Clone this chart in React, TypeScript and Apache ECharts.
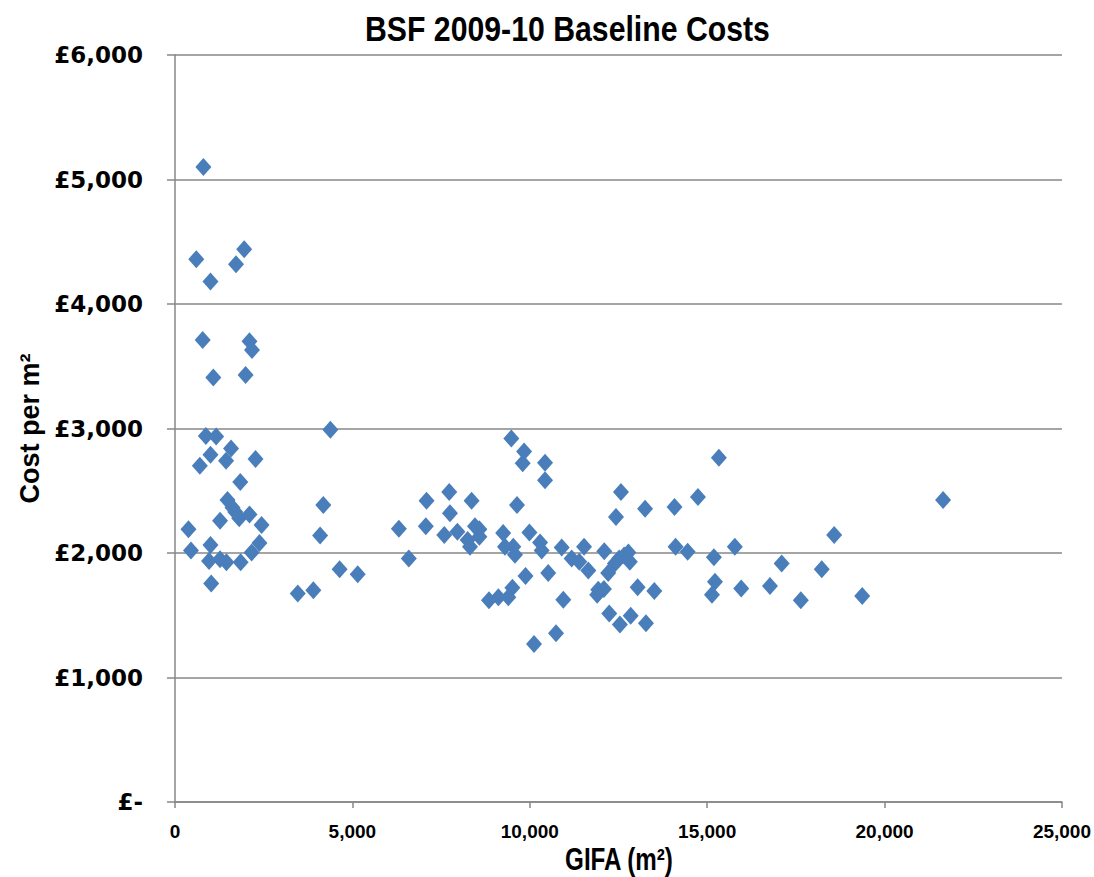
import React, { useEffect, useRef } from "react";
import * as echarts from "echarts";

// Gross internal floor area (m²) of each school
const gifa: number[] = [
  800, 600, 1000, 1950, 1720, 780, 2100, 2170, 1080, 1990,
  870, 1160, 1580, 1000, 700, 1440, 2270, 1840, 1480, 1620,
  1810, 2100, 1270, 2440, 380, 450, 1000, 2380, 2160, 960,
  1270, 1450, 1850, 1020, 1700,
  4380, 4180, 4090, 4640, 5150, 3460, 3900, 6310, 6590, 7090,
  7070, 7730, 7750, 7590, 7960, 8360, 8455, 8580, 8250, 8315,
  8580,
  9480, 9840, 9800, 10430, 10430, 9640, 9250, 9990, 9300, 9536,
  9583, 10290, 10335, 10900, 11530, 11180, 11395, 11650, 9880, 10520,
  9510, 9395, 9115, 8850, 10945, 10740, 10120,
  11930, 11900, 12100, 12210, 12090, 12780, 12520, 12820, 12400, 12660,
  12570, 12430, 13040, 13510, 13275, 12845, 12540, 12240,
  13250, 14080, 14740, 15330, 14110, 14450, 15780, 15190, 17100, 15220,
  15135, 15960, 16770, 18580, 18230, 17640, 19370, 21650,
];

// Baseline cost per m² (£) of each school
const costPerM2: number[] = [
  5100, 4360, 4180, 4440, 4320, 3710, 3700, 3630, 3410, 3430,
  2940, 2935, 2840, 2790, 2700, 2740, 2755, 2570, 2425, 2365,
  2280, 2310, 2260, 2225, 2190, 2020, 2065, 2080, 2005, 1935,
  1950, 1925, 1925, 1755, 2330,
  2990, 2385, 2140, 1870, 1830, 1675, 1700, 2195, 1955, 2420,
  2215, 2490, 2320, 2145, 2170, 2420, 2215, 2190, 2105, 2050,
  2130,
  2920, 2815, 2720, 2725, 2585, 2385, 2160, 2165, 2050, 2050,
  1985, 2085, 2020, 2045, 2050, 1955, 1930, 1860, 1815, 1840,
  1720, 1645, 1645, 1620, 1625, 1355, 1270,
  1705, 1665, 2015, 1840, 1710, 2005, 1955, 1930, 1915, 1980,
  2490, 2290, 1725, 1695, 1435, 1495, 1425, 1515,
  2355, 2370, 2450, 2765, 2050, 2010, 2050, 1965, 1915, 1770,
  1665, 1715, 1735, 2145, 1870, 1620, 1655, 2425,
];

const xTicks = { min: 0, max: 25000, step: 5000 };
const yTicks = { min: 0, max: 6000, step: 1000 };

const chartTitle = "BSF 2009-10 Baseline Costs";
const xAxisTitle = "GIFA (m²)";
const yAxisTitle = "Cost per m²";

const fmtThousands = (v: number) =>
  Math.round(v).toString().replace(/\B(?=(\d{3})+(?!\d))/g, ",");

export default function App() {
  const ref = useRef<HTMLDivElement>(null);

  useEffect(() => {
    if (!ref.current) return;
    const chart = echarts.init(ref.current, undefined, { renderer: "svg" });
    const points = gifa.map((x, i) => [x, costPerM2[i]]);
    const gridGrey = "#878787";
    const sans = "'Liberation Sans', Arial, sans-serif";

    chart.setOption({
      animation: false,
      backgroundColor: "#ffffff",
      // Condensed bold headings: horizontally squeezed text
      graphic: [
        {
          type: "text",
          x: 365,
          y: 11,
          scaleX: 0.84,
          style: {
            text: chartTitle,
            font: "bold 36px 'Liberation Sans', Arial, sans-serif",
            fill: "#000000",
            textAlign: "left",
            textVerticalAlign: "top",
          },
        },
        {
          type: "text",
          x: 619,
          y: 844,
          scaleX: 0.78,
          style: {
            text: xAxisTitle,
            font: "bold 31px 'Liberation Sans', Arial, sans-serif",
            fill: "#000000",
            textAlign: "center",
            textVerticalAlign: "top",
          },
        },
      ],
      grid: { left: 175, right: 32, top: 55, bottom: 75 },
      xAxis: {
        type: "value",
        min: xTicks.min,
        max: xTicks.max,
        interval: xTicks.step,
        axisLine: { show: true, onZero: false, lineStyle: { color: gridGrey, width: 1.5 } },
        axisTick: { show: true, length: 6, lineStyle: { color: gridGrey, width: 1.5 } },
        splitLine: { show: false },
        axisLabel: {
          margin: 20,
          fontFamily: sans,
          fontWeight: "bold",
          fontSize: 19,
          color: "#000000",
          formatter: (v: number) => fmtThousands(v),
        },
      },
      yAxis: {
        type: "value",
        min: yTicks.min,
        max: yTicks.max,
        interval: yTicks.step,
        name: yAxisTitle,
        nameLocation: "middle",
        nameGap: 126,
        nameRotate: 90,
        nameTextStyle: {
          fontFamily: sans,
          fontWeight: "bold",
          fontSize: 27,
          color: "#000000",
        },
        axisLine: { show: true, lineStyle: { color: gridGrey, width: 1.5 } },
        axisTick: { show: true, length: 8, lineStyle: { color: gridGrey, width: 1.5 } },
        splitLine: { show: true, lineStyle: { color: gridGrey, width: 1.5 } },
        axisLabel: {
          margin: 32,
          fontFamily: "'DejaVu Sans', sans-serif",
          fontWeight: "bold",
          fontSize: 23,
          color: "#000000",
          formatter: (v: number) => (v === 0 ? "£-" : "£" + fmtThousands(v)),
        },
      },
      series: [
        {
          type: "scatter",
          data: points,
          symbol: "diamond",
          symbolSize: [16, 18],
          itemStyle: { color: "#4A7EBB", opacity: 1 },
        },
      ],
    });

    return () => chart.dispose();
  }, []);

  return (
    <div
      ref={ref}
      style={{ position: "fixed", left: 0, top: 0, width: 1094, height: 877 }}
    />
  );
}
